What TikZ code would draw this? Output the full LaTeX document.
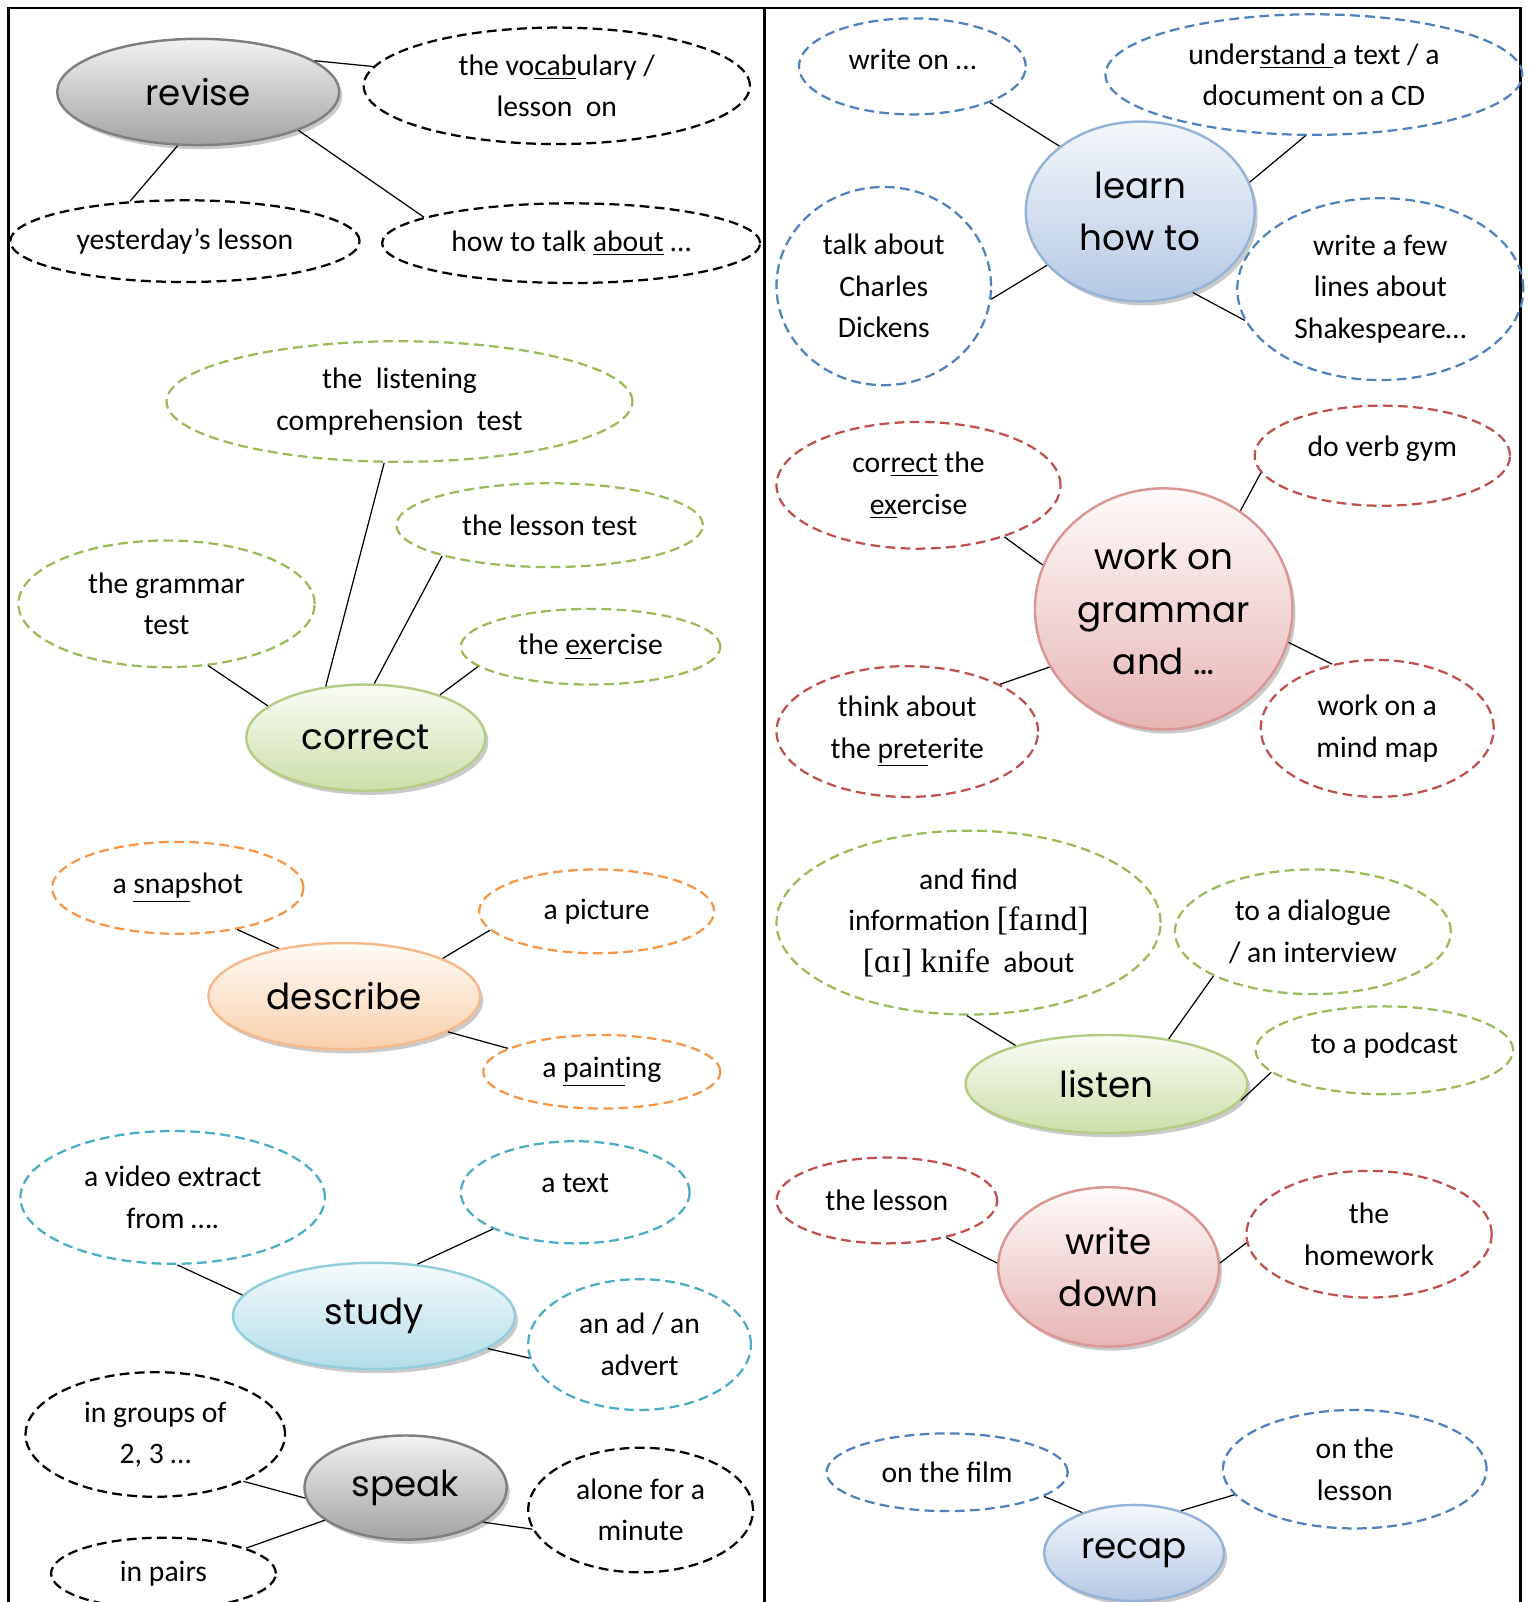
\documentclass[tikz,border=0pt]{standalone}
\usepackage{fontspec}
\setmainfont{Carlito}
\newfontfamily\comicfont{Poppins}
\newfontfamily\ipafont{Liberation Serif}
\usetikzlibrary{shapes.geometric,shadows}

\definecolor{dblue}{HTML}{4F81BD}
\definecolor{dred}{HTML}{C0504D}
\definecolor{dgreen}{HTML}{9BBB59}
\definecolor{dorange}{HTML}{F79646}
\definecolor{dcyan}{HTML}{4BACC6}
\definecolor{grayT}{HTML}{F2F2F2}\definecolor{grayB}{HTML}{A3A3A3}\definecolor{grayE}{HTML}{7F7F7F}
\definecolor{greenT}{HTML}{FAFCF5}\definecolor{greenB}{HTML}{CDDFAA}\definecolor{greenE}{HTML}{B5CC86}
\definecolor{orangeT}{HTML}{FFFBF7}\definecolor{orangeB}{HTML}{F9D0AC}\definecolor{orangeE}{HTML}{F6B98C}
\definecolor{cyanT}{HTML}{F4FAFC}\definecolor{cyanB}{HTML}{B3DDE9}\definecolor{cyanE}{HTML}{92CDDC}
\definecolor{blueT}{HTML}{F4F7FB}\definecolor{blueB}{HTML}{B4C8E4}\definecolor{blueE}{HTML}{95B3D7}
\definecolor{redT}{HTML}{FFFAFA}\definecolor{redB}{HTML}{E6B5B4}\definecolor{redE}{HTML}{D99694}

\newcommand\phon[1]{{\ipafont\fontsize{16.5}{20.3}\selectfont #1}}

\begin{document}
\begin{tikzpicture}[x=0.5pt,y=-0.5pt,
  sub/.style={ellipse, draw=#1, line width=1.1pt, dash pattern=on 4.8pt off 2.6pt,
    inner sep=0pt, align=center, font=\fontsize{14.5}{20.3}\selectfont},
  sz/.style 2 args={minimum width=#1pt, minimum height=#2pt},
  hub/.style={ellipse, top color=#1T, bottom color=#1B, draw=#1E, line width=1.2pt,
    inner sep=0pt, align=center,
    drop shadow={shadow xshift=1.5pt, shadow yshift=-2pt, opacity=0.35, fill=black!60},
    font=\comicfont\fontsize{17.5}{25.5}\selectfont},
  link/.style={line width=0.6pt}]
  \useasboundingbox (0,0) rectangle (1496,1568);

  \draw[line width=1.3pt] (8,1568) -- (8,8) -- (1488,8) -- (1488,1568);
  \draw[line width=1.3pt] (748,8) -- (748,1568);

  % left column
  \node[hub=gray, sz={138}{52}] (revise) at (194,90) {revise};
  \node[sub=black, sz={189}{57}] (vocab) at (545,84) {the vo\underline{cab}ulary /\\lesson\ \ on};
  \node[sub=black, sz={171}{40}] (yest) at (181,236) {yesterday’s lesson};
  \node[sub=black, sz={185}{39}] (talkab) at (559,238) {how to talk \underline{about} …};

  \node[hub=green, sz={117}{52}] (correct) at (358,722) {correct};
  \node[sub=dgreen, sz={228}{59}] (listening) at (391,393) {the\ \ listening\\comprehension\ \ test};
  \node[sub=dgreen, sz={150}{41}] (lestest) at (538,514) {the lesson test};
  \node[sub=dgreen, sz={145}{62}] (gramtest) at (163,591) {the grammar\\test};
  \node[sub=dgreen, sz={127}{37}] (exer) at (578,633) {the \underline{ex}ercise};

  \node[hub=orange, sz={133}{52}] (describe) at (337,975) {describe};
  \node[sub=dorange, sz={123}{45}] (snap) at (174,869) {a \underline{snap}shot};
  \node[sub=dorange, sz={115}{41}] (picture) at (584,892) {a picture};
  \node[sub=dorange, sz={116}{36}] (painting) at (589,1049) {a \underline{paint}ing};

  \node[hub=cyan, sz={138}{52}] (study) at (366,1288) {study};
  \node[sub=dcyan, sz={149}{65}] (video) at (169,1172) {a video extract\\from ….};
  \node[sub=dcyan, sz={112}{50}, text depth=9pt] (atext) at (563,1167) {a text};
  \node[sub=dcyan, sz={109}{64}] (advert) at (626,1316) {an ad / an\\advert};

  \node[hub=gray, sz={99}{51}] (speak) at (397,1456) {speak};
  \node[sub=black, sz={127}{61}] (groups) at (152,1404) {in groups of\\2, 3 …};
  \node[sub=black, sz={110}{61}] (alone) at (627,1478) {alone for a\\minute};
  \node[sub=black, sz={110}{35}] (pairs) at (160,1540) {in pairs};

  % right column
  \node[hub=blue, sz={112}{88}] (learn) at (1116,207) {learn\\how to};
  \node[sub=dblue, sz={111}{47}, text depth=7pt] (writeon) at (893,65) {write on …};
  \node[sub=dblue, sz={204}{59}] (understand) at (1286,73) {under\underline{stand }a text / a\\document on a CD};
  \node[sub=dblue, sz={105}{97}] (dickens) at (865,280) {talk about\\Charles\\Dickens};
  \node[sub=dblue, sz={140}{89}] (shakes) at (1351,283) {write a few\\lines about\\Shakespeare…};

  \node[hub=red, sz={126}{118}] (grammar) at (1139,596) {work on\\grammar\\and …};
  \node[sub=dred, sz={139}{62}] (correx) at (899,475) {cor\underline{rect} the\\\underline{ex}ercise};
  \node[sub=dred, sz={125}{49}, text depth=9pt] (verbgym) at (1353,446) {do verb gym};
  \node[sub=dred, sz={128}{64}] (preterite) at (888,716) {think about\\the \underline{pret}erite};
  \node[sub=dred, sz={114}{67}] (mindmap) at (1348,713) {work on a\\mind map};

  \node[hub=green, sz={138}{48}] (listen) at (1083,1061) {listen};
  \node[sub=dgreen, sz={188}{90}] (findinfo) at (948,903) {and find\\information \phon{[faɪnd]}\\\phon{[ɑɪ] knife}\ \ about};
  \node[sub=dgreen, sz={135}{61}] (dialogue) at (1285,912) {to a dialogue\\/ an interview};
  \node[sub=dgreen, sz={126}{43}, text depth=7pt] (podcast) at (1355,1028) {to a podcast};

  \node[hub=red, sz={108}{78}] (writedown) at (1085,1240) {write\\down};
  \node[sub=dred, sz={108}{42}] (thelesson) at (868,1175) {the lesson};
  \node[sub=dred, sz={120}{62}] (homework) at (1340,1208) {the\\homework};

  \node[hub=blue, sz={88}{47}] (recap) at (1110,1520) {recap};
  \node[sub=dblue, sz={118}{38}] (film) at (927,1441) {on the film};
  \node[sub=dblue, sz={129}{58}] (onlesson) at (1326,1438) {on the\\lesson};

  \foreach \a/\b in {revise.15/vocab.174, revise.249/yest.144, revise.-21/talkab.170,
      correct.128/listening.256, correct.81/lestest.196, correct.162/gramtest.-56, correct.30/exer.190,
      describe.144/snap.-35, describe.21/picture.190, describe.-19/painting.166,
      study.171/video.-86, study.50/atext.204, study.-16/advert.187,
      speak.186/groups.-28, speak.202/pairs.17, speak.-24/alone.190,
      learn.141/writeon.-25, learn.15/understand.262, learn.210/dickens.-7, learn.-57/shakes.193,
      grammar.160/correx.-31, grammar.52/verbgym.188, grammar.207/preterite.27, grammar.-15/mindmap.125,
      listen.157/findinfo.269, listen.36/dialogue.204, listen.-7/podcast.191,
      writedown.178/thelesson.-32, writedown.2/homework.184,
      recap.142/film.-14, recap.42/onlesson.192}{
    \draw[link] (\a) -- (\b);
  }
\end{tikzpicture}
\end{document}
